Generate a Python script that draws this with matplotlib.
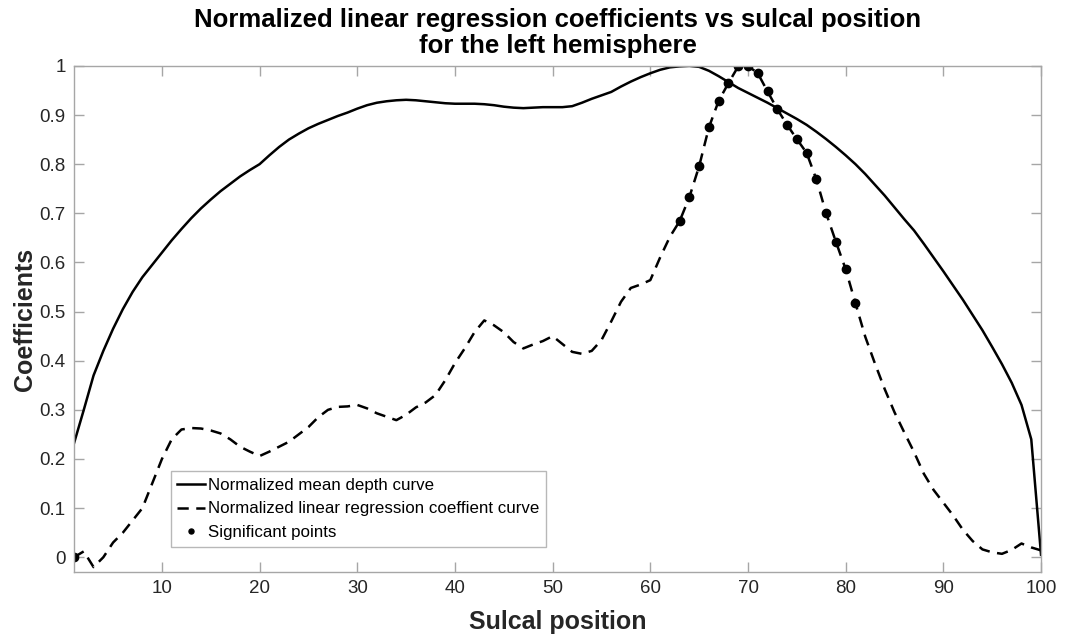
import numpy as np
from matplotlib import pyplot as plt

plt.rcParams["font.family"] = ["Liberation Sans", "DejaVu Sans"]

positions = np.arange(1, 101)

mean_depth = [
    0.232, 0.300, 0.370, 0.420, 0.465, 0.505, 0.540, 0.570, 0.595, 0.620,
    0.645, 0.668, 0.690, 0.710, 0.728, 0.745, 0.760, 0.775, 0.788, 0.800,
    0.818, 0.835, 0.850, 0.862, 0.873, 0.882, 0.890, 0.898, 0.905, 0.913,
    0.920, 0.925, 0.928, 0.930, 0.931, 0.930, 0.928, 0.926, 0.924, 0.923,
    0.923, 0.923, 0.922, 0.920, 0.917, 0.915, 0.914, 0.915, 0.916, 0.916,
    0.916, 0.918, 0.925, 0.933, 0.940, 0.947, 0.958, 0.968, 0.977, 0.985,
    0.992, 0.997, 0.999, 1.000, 0.998, 0.990, 0.979, 0.967, 0.955, 0.945,
    0.935, 0.925, 0.914, 0.903, 0.892, 0.880, 0.866, 0.851, 0.835, 0.818,
    0.800, 0.780, 0.758, 0.736, 0.712, 0.688, 0.665, 0.638, 0.610, 0.582,
    0.553, 0.524, 0.493, 0.462, 0.428, 0.393, 0.355, 0.310, 0.240, 0.005,
]

regression_coef = [
    0.000, 0.012, -0.020, 0.000, 0.030, 0.050, 0.075, 0.100, 0.150, 0.200,
    0.240, 0.260, 0.263, 0.262, 0.258, 0.252, 0.240, 0.225, 0.215, 0.206,
    0.215, 0.225, 0.235, 0.250, 0.265, 0.285, 0.300, 0.306, 0.307, 0.310,
    0.303, 0.293, 0.286, 0.279, 0.290, 0.305, 0.315, 0.330, 0.360, 0.395,
    0.425, 0.458, 0.482, 0.472, 0.458, 0.438, 0.425, 0.433, 0.440, 0.450,
    0.434, 0.418, 0.414, 0.420, 0.442, 0.480, 0.520, 0.548, 0.555, 0.564,
    0.610, 0.652, 0.684, 0.733, 0.796, 0.875, 0.929, 0.965, 0.999, 1.000,
    0.985, 0.948, 0.912, 0.880, 0.851, 0.823, 0.769, 0.700, 0.642, 0.586,
    0.517, 0.449, 0.394, 0.342, 0.295, 0.254, 0.214, 0.170, 0.137, 0.111,
    0.085, 0.056, 0.033, 0.016, 0.010, 0.007, 0.015, 0.028, 0.020, 0.014,
]

significant_positions = [1] + list(range(63, 82))

x_ticks = list(range(10, 101, 10))
y_ticks = [0, 0.1, 0.2, 0.3, 0.4, 0.5, 0.6, 0.7, 0.8, 0.9, 1]
y_tick_labels = ["0", "0.1", "0.2", "0.3", "0.4", "0.5", "0.6", "0.7", "0.8", "0.9", "1"]

fig = plt.figure(figsize=(10.65, 6.4), dpi=100)
ax = fig.add_axes([0.0695, 0.10625, 0.908, 0.7908])

coef = np.array(regression_coef)
sig_idx = np.array(significant_positions) - 1

ax.plot(positions, mean_depth, color="black", linewidth=1.8, label="Normalized mean depth curve")
ax.plot(positions, coef, color="black", linewidth=1.8, linestyle=(0, (4.5, 3)),
        label="Normalized linear regression coeffient curve")
ax.plot(positions[sig_idx], coef[sig_idx], linestyle="none", marker="o", markersize=6,
        color="black", label="Significant points")

ax.set_xlim(1, 100)
ax.set_ylim(-0.03, 1)
ax.set_xticks(x_ticks)
ax.set_yticks(y_ticks)
ax.set_yticklabels(y_tick_labels)

for spine in ax.spines.values():
    spine.set_color("#a6a6a6")
    spine.set_linewidth(1.0)
ax.tick_params(direction="in", length=7, width=1.0, color="#a6a6a6", labelcolor="#262626",
               labelsize=13.5, top=True, right=True, pad=6)

ax.set_xlabel("Sulcal position", fontsize=18, fontweight="bold", color="#262626", labelpad=9)
ax.set_ylabel("Coefficients", fontsize=18, fontweight="bold", color="#262626", labelpad=2)
ax.set_title("Normalized linear regression coefficients vs sulcal position\nfor the left hemisphere",
             fontsize=18.5, fontweight="bold", color="black", pad=9, linespacing=1.12)

leg = ax.legend(loc="lower left", bbox_to_anchor=(0.1, 0.05), fontsize=12.2, frameon=True,
                fancybox=False, edgecolor="#a6a6a6", handlelength=1.6, handletextpad=0.2,
                borderpad=0.4, labelspacing=0.5, borderaxespad=0, markerscale=0.6)
leg.get_frame().set_linewidth(1.0)

fig.savefig("out.png", dpi=100)
